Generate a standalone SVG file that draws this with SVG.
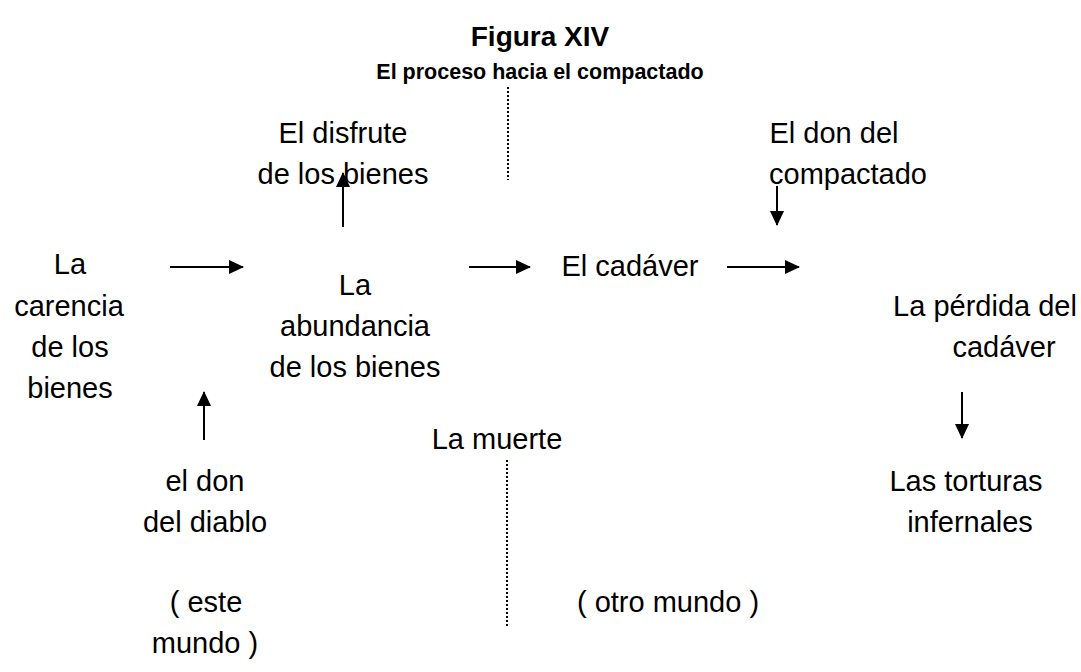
<svg xmlns="http://www.w3.org/2000/svg" width="1081" height="672" viewBox="0 0 1081 672">
<style>
text{font-family:"Liberation Sans",Arial,sans-serif;font-size:29px;fill:#000;text-anchor:middle}
.t{font-weight:bold;font-size:28px}
.s{font-weight:bold;font-size:21.5px}
.a{stroke:#000;stroke-width:2;fill:none;marker-end:url(#h)}
.d{stroke:#000;stroke-width:2;stroke-dasharray:2 2;fill:none}
</style>
<defs>
<marker id="h" markerUnits="userSpaceOnUse" markerWidth="16" markerHeight="14" refX="14" refY="7" orient="auto">
<path d="M0,0 L15,7 L0,14 Z" fill="#000"/>
</marker>
</defs>
<rect width="1081" height="672" fill="#fff"/>
<g id="title"><text class="t" x="540" y="46">Figura XIV</text><text class="s" x="540" y="79">El proceso hacia el compactado</text></g>
<g id="n-carencia"><text x="70" y="274">La</text><text x="69" y="316">carencia</text><text x="70" y="357">de los</text><text x="70" y="398">bienes</text></g>
<g id="n-disfrute"><text x="343" y="143">El disfrute</text><text x="343" y="184">de los bienes</text></g>
<g id="n-abundancia"><text x="355" y="295">La</text><text x="355" y="336">abundancia</text><text x="355" y="377">de los bienes</text></g>
<g id="n-cadaver"><text x="630" y="276">El cadáver</text></g>
<g id="n-don-compactado"><text x="834" y="143">El don del</text><text x="848" y="184">compactado</text></g>
<g id="n-perdida"><text x="985" y="316">La pérdida del</text><text x="1004" y="357">cadáver</text></g>
<g id="n-muerte"><text x="497" y="449">La muerte</text></g>
<g id="n-diablo"><text x="205" y="491">el don</text><text x="205" y="532">del diablo</text></g>
<g id="n-torturas"><text x="966" y="491">Las torturas</text><text x="970" y="532">infernales</text></g>
<g id="n-este"><text x="206" y="612">( este</text><text x="205" y="653">mundo )</text></g>
<g id="n-otro"><text x="668" y="612">( otro mundo )</text></g>
<g id="connectors">
<path class="a" d="M170,267 H243"/>
<path class="a" d="M469,267 H530"/>
<path class="a" d="M727,267 H799"/>
<path class="a" d="M343,227 V173"/>
<path class="a" d="M777,186 V225"/>
<path class="a" d="M204,440 V392"/>
<path class="a" d="M962,392 V438"/>
<path class="d" d="M508,87 V180"/>
<path class="d" d="M507,460 V627"/>
</g>
</svg>
